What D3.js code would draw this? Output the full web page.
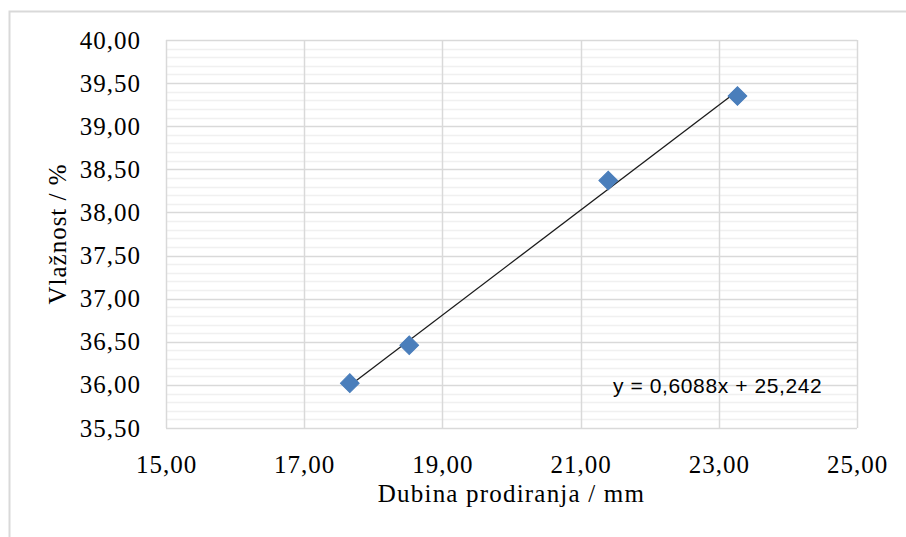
<!DOCTYPE html>
<html>
<head>
<meta charset="utf-8">
<script src="https://cdn.jsdelivr.net/npm/d3@7"></script>
<style>
  body { margin: 0; background: #fff; }
  svg text { fill: #000; }
</style>
</head>
<body>
<div id="chart"></div>
<script>
// data
const depth = [17.66, 18.52, 21.40, 23.27];      // Dubina prodiranja / mm
const moisture = [36.02, 36.46, 38.37, 39.35];   // Vlažnost / %
const xTicks = [15, 17, 19, 21, 23, 25];
const yTicks = [35.5, 36, 36.5, 37, 37.5, 38, 38.5, 39, 39.5, 40];
const slope = 0.6088, intercept = 25.242;
const eqLabel = "y = 0,6088x + 25,242";

const W = 906, H = 537;
const M = { left: 166, right: 49, top: 40, bottom: 109 };
const SERIF = "'Liberation Serif', 'Times New Roman', serif";
const fmt = d => d3.format(".2f")(d).replace(".", ",");

const svg = d3.select("#chart").append("svg")
  .attr("width", W).attr("height", H);

// outer chart frame (cut off on the right / bottom)
svg.append("rect")
  .attr("x", 9.5).attr("y", 11.5)
  .attr("width", 1000).attr("height", 1000)
  .attr("fill", "none").attr("stroke", "#d9d9d9").attr("stroke-width", 2);

const x = d3.scaleLinear().domain([15, 25]).range([M.left, W - M.right]);
const y = d3.scaleLinear().domain([35.5, 40]).range([H - M.bottom, M.top]);

const g = svg.append("g");

// minor horizontal grid every 0.1
const minor = d3.range(35.5, 40.001, 0.1).filter(v => Math.abs(v * 2 - Math.round(v * 2)) > 0.01);
g.selectAll(".minor").data(minor).enter().append("line")
  .attr("x1", x(15)).attr("x2", x(25))
  .attr("y1", d => Math.round(y(d)) + 0.5).attr("y2", d => Math.round(y(d)) + 0.5)
  .attr("stroke", "#f0f0f0").attr("stroke-width", 1.5);

// major grid
g.selectAll(".hmaj").data(yTicks).enter().append("line")
  .attr("x1", x(15)).attr("x2", x(25))
  .attr("y1", d => Math.round(y(d)) + 0.5).attr("y2", d => Math.round(y(d)) + 0.5)
  .attr("stroke", "#d9d9d9").attr("stroke-width", 1.5);
g.selectAll(".vmaj").data(xTicks).enter().append("line")
  .attr("y1", y(35.5)).attr("y2", y(40))
  .attr("x1", d => Math.round(x(d)) + 0.5).attr("x2", d => Math.round(x(d)) + 0.5)
  .attr("stroke", "#d9d9d9").attr("stroke-width", 1.5);

// axes (labels only)
const xAxis = svg.append("g")
  .attr("transform", `translate(0,${y(35.5)})`)
  .call(d3.axisBottom(x).tickValues(xTicks).tickFormat(fmt).tickSize(0).tickPadding(27));
const yAxis = svg.append("g")
  .attr("transform", `translate(${x(15)},0)`)
  .call(d3.axisLeft(y).tickValues(yTicks).tickFormat(fmt).tickSize(0).tickPadding(25));
[xAxis, yAxis].forEach(a => {
  a.select(".domain").remove();
  a.attr("font-family", SERIF).attr("font-size", 25);
  a.selectAll("text")
    .style("font-family", SERIF)
    .style("font-size", "25px")
    .style("letter-spacing", "1px")
    .attr("fill", "#000");
});

// trendline
const x0 = d3.min(depth), x1 = d3.max(depth);
svg.append("line")
  .attr("x1", x(x0)).attr("y1", y(slope * x0 + intercept))
  .attr("x2", x(x1)).attr("y2", y(slope * x1 + intercept))
  .attr("stroke", "#1a1a1a").attr("stroke-width", 1.3);

// diamond markers
const pts = depth.map((d, i) => ({ x: depth[i], y: moisture[i] }));
svg.selectAll(".pt").data(pts).enter().append("path")
  .attr("d", d3.symbol().type(d3.symbolSquare).size(175))
  .attr("transform", d => `translate(${x(d.x)},${y(d.y)}) rotate(45)`)
  .attr("fill", "#4a7ebb").attr("stroke", "#4a7ebb").attr("stroke-width", 1);

// equation label
svg.append("text")
  .attr("x", 613).attr("y", 393)
  .style("font-family", "'Liberation Sans', Arial, sans-serif")
  .style("font-size", "21px")
  .style("letter-spacing", "0.6px")
  .text(eqLabel);

// axis titles
svg.append("text")
  .attr("x", (x(15) + x(25)) / 2).attr("y", 502)
  .attr("text-anchor", "middle")
  .style("font-family", SERIF)
  .style("font-size", "25px")
  .style("letter-spacing", "1.2px")
  .text("Dubina prodiranja / mm");
svg.append("text")
  .attr("transform", `translate(66,${(y(35.5) + y(40)) / 2}) rotate(-90)`)
  .attr("text-anchor", "middle")
  .style("font-family", SERIF)
  .style("font-size", "25px")
  .style("letter-spacing", "1px")
  .text("Vlažnost / %");
</script>
</body>
</html>
